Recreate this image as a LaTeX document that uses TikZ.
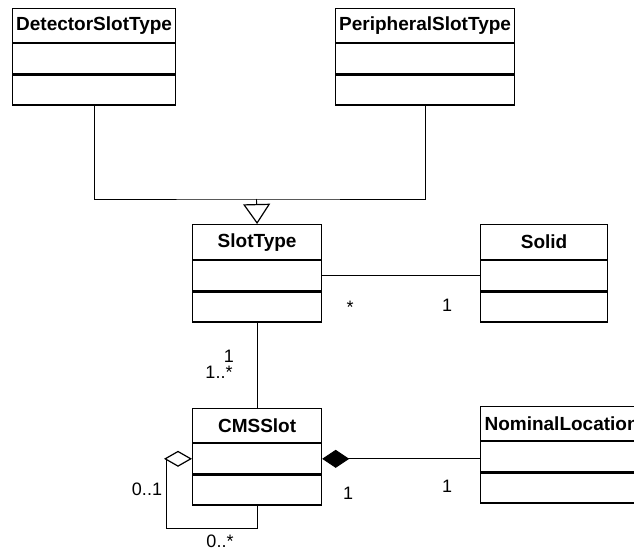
\documentclass[tikz,border=0pt]{standalone}
\usepackage{fontspec}
\setmainfont{Liberation Sans}
\usetikzlibrary{arrows.meta, positioning}

\begin{document}
\begin{tikzpicture}[
  x=1pt, y=-1pt,
  cls/.style={draw, rectangle, line width=1.2pt, minimum height=34pt, inner sep=2pt,
              anchor=north west, font=\fontsize{19}{22}\selectfont\bfseries},
  cmp/.style={draw, rectangle, line width=1.2pt, minimum height=30pt, inner sep=0pt},
  mult/.style={anchor=base, font=\fontsize{18}{21}\selectfont},
  assoc/.style={line width=0.9pt},
  gener/.style={assoc, -{Triangle[open, length=20pt, width=27pt, line width=1.2pt]}},
  aggr/.style={assoc, {Diamond[open, length=28pt, width=16pt, line width=1.2pt]}-},
  compo/.style={assoc, {Diamond[length=27pt, width=18pt]}-},
]
  \useasboundingbox (0,0) rectangle (634,552);
  \clip (0,0) rectangle (634,552);

  % ---- Classes: name compartment + two empty compartments ----
  \node[cls, minimum width=163pt] (det) at (12,8) {DetectorSlotType};
  \node[cmp, minimum width=163pt, below=0pt of det]  (det1) {};
  \node[cmp, minimum width=163pt, below=0pt of det1] (det2) {};

  \node[cls, minimum width=179pt] (peri) at (335,8) {PeripheralSlotType};
  \node[cmp, minimum width=179pt, below=0pt of peri]  (peri1) {};
  \node[cmp, minimum width=179pt, below=0pt of peri1] (peri2) {};

  \node[cls, minimum width=129pt, minimum height=35pt] (slot) at (192,224) {SlotType};
  \node[cmp, minimum width=129pt, below=0pt of slot]  (slot1) {};
  \node[cmp, minimum width=129pt, below=0pt of slot1] (slot2) {};

  \node[cls, minimum width=127pt, minimum height=35pt] (solid) at (480,224) {Solid};
  \node[cmp, minimum width=127pt, below=0pt of solid]  (solid1) {};
  \node[cmp, minimum width=127pt, below=0pt of solid1] (solid2) {};

  \node[cls, minimum width=129pt] (cms) at (192,408) {CMSSlot};
  \node[cmp, minimum width=129pt, below=0pt of cms]  (cms1) {};
  \node[cmp, minimum width=129pt, below=0pt of cms1] (cms2) {};

  \node[cls, minimum width=162pt] (nom) at (480,406) {NominalLocation};
  \node[cmp, minimum width=162pt, below=0pt of nom]  (nom1) {};
  \node[cmp, minimum width=162pt, below=0pt of nom1] (nom2) {};

  % ---- Generalization ----
  \coordinate (gen) at (256.5,199);
  \draw[assoc] (det2.south) |- (gen) -| (peri2.south);
  \draw[gener] (gen) -- (slot.north);

  % ---- Associations ----
  \draw[assoc] (slot1.east) -- (slot1.east -| solid1.west);
  \draw[assoc] (slot2.south) -- (cms.north);
  \draw[compo] (cms1.east) -- (cms1.east -| nom1.west);
  \coordinate (loop) at (166,528);
  \draw[aggr] (cms1.west) -| (loop) -| (cms2.south);

  % ---- Multiplicities ----
  \node[mult] (m1) at (350,313) {*};
  \node[mult] (m2) at (447,311) {1};
  \node[mult] (m3) at (229,362) {1};
  \node[mult] (m4) at (219,378) {1..*};
  \node[mult] (m5) at (147,495) {0..1};
  \node[mult] (m6) at (220,547) {0..*};
  \node[mult] (m7) at (348,499) {1};
  \node[mult] (m8) at (447,492) {1};
\end{tikzpicture}
\end{document}
